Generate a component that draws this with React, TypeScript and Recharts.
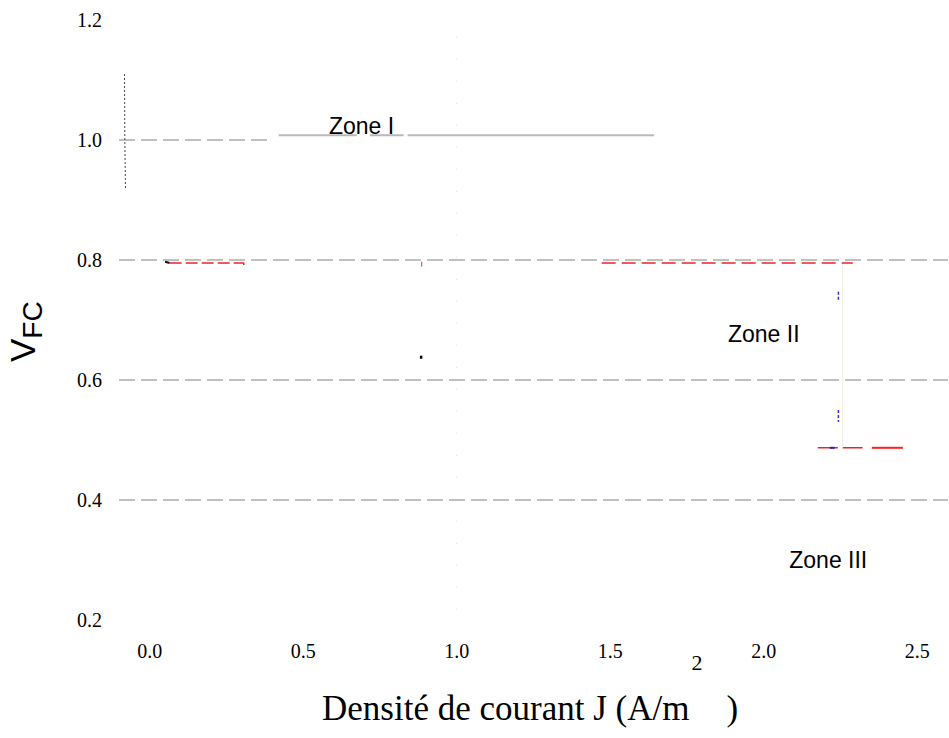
import {
  ComposedChart,
  Line,
  XAxis,
  YAxis,
  ReferenceLine,
  ReferenceDot,
  Customized,
} from "recharts";

// axis ticks
const X_TICKS = [0, 0.5, 1.0, 1.5, 2.0, 2.5];
const Y_TICKS = [0.2, 0.4, 0.6, 0.8, 1.0, 1.2];

// horizontal guide lines (V)
const DASHED_LEVELS = [0.8, 0.6, 0.4];
const DASHED_TOP: [number, number, number] = [-0.1, 0.4, 1.0]; // from J, to J, at V
const SOLID_TOP: [number, number][] = [
  [0.42, 0.674],
  [0.717, 0.827],
  [0.84, 1.642],
]; // J ranges at V = 1.008
const SOLID_TOP_V = 1.008;

// faint dotted vertical at J = 1.0
const VERTICAL_J = 1.0;
const VERTICAL_RANGE: [number, number] = [0.217, 1.183];

// visible fragments of the curves: [J, V]
const BLACK_START: [number, number][] = [
  [-0.082, 1.11],
  [-0.081, 1.0],
  [-0.079, 0.92],
];
const BLACK_KNEE: [number, number][] = [
  [0.05, 0.797],
  [0.065, 0.795],
];
const RED_OHMIC_A: [number, number][] = [
  [0.065, 0.795],
  [0.306, 0.795],
  [0.307, 0.789],
];
const RED_TICK: [number, number][] = [
  [0.886, 0.797],
  [0.886, 0.789],
];
const BLACK_MARK: [number, number][] = [
  [0.88, 0.638],
  [0.888, 0.638],
];
const RED_OHMIC_B: [number, number][] = [
  [1.472, 0.795],
  [2.29, 0.795],
];
const FAINT_DROP: [number, number][] = [
  [2.257, 0.792],
  [2.257, 0.483],
];
const BLUE_A: [number, number][] = [
  [2.243, 0.747],
  [2.243, 0.733],
];
const BLUE_B: [number, number][] = [
  [2.243, 0.55],
  [2.243, 0.53],
];
const RED_LOW_DASH: [number, number][] = [
  [2.176, 0.487],
  [2.322, 0.487],
];
const BLUE_LOW: [number, number][] = [
  [2.215, 0.487],
  [2.231, 0.487],
];
const RED_LOW_SOLID: [number, number][] = [
  [2.352, 0.487],
  [2.453, 0.487],
];

// zone annotations: [label, J, V]
const ZONES: [string, number, number][] = [
  ["Zone I", 0.69, 1.023],
  ["Zone II", 2.0, 0.677],
  ["Zone III", 2.21, 0.3],
];

const toPts = (arr: [number, number][]) => arr.map(([j, v]) => ({ j, v }));

const SERIF = "Liberation Serif, Times New Roman, serif";
const SANS = "Liberation Sans, Arial, sans-serif";

const GRID = "#c0c0c0";

function XTick(props: any) {
  const { x, y, payload } = props;
  return (
    <text
      x={x}
      y={y}
      dy={14}
      textAnchor="middle"
      fontFamily={SERIF}
      fontSize={20}
      fill="#000"
    >
      {Number(payload.value).toFixed(1)}
    </text>
  );
}

function YTick(props: any) {
  const { x, y, payload } = props;
  return (
    <text
      x={x}
      y={y}
      dy={7}
      textAnchor="end"
      fontFamily={SERIF}
      fontSize={20}
      fill="#000"
    >
      {Number(payload.value).toFixed(1)}
    </text>
  );
}

function AxisTitles() {
  return (
    <g>
      <text
        transform="translate(35,362) rotate(-90)"
        fontFamily={SANS}
        fontSize={35}
        fill="#000"
      >
        V
        <tspan fontSize={28} dy={7}>
          FC
        </tspan>
      </text>
      <text x={322} y={720} fontFamily={SERIF} fontSize={35} fill="#000">
        Densité de courant J (A/m
        <tspan fontSize={22} dy={-50} dx={2}>
          2
        </tspan>
        <tspan dy={50} dx={24}>
          )
        </tspan>
      </text>
    </g>
  );
}

const series: { data: [number, number][]; stroke: string; width: number; dash?: string }[] = [
  { data: BLACK_START, stroke: "#444", width: 1, dash: "2 2" },
  { data: FAINT_DROP, stroke: "#ededdd", width: 1 },
  { data: BLACK_KNEE, stroke: "#111", width: 2 },
  { data: RED_OHMIC_A, stroke: "#e8262a", width: 1.5, dash: "12 4" },
  { data: RED_TICK, stroke: "#e8262a", width: 1 },
  { data: BLACK_MARK, stroke: "#000", width: 3 },
  { data: RED_OHMIC_B, stroke: "#e8262a", width: 1.5, dash: "14 6" },
  { data: BLUE_A, stroke: "#3030e0", width: 1.5, dash: "3 2" },
  { data: BLUE_B, stroke: "#3030e0", width: 1.5, dash: "3 2" },
  { data: RED_LOW_DASH, stroke: "#e8262a", width: 1.5, dash: "20 5" },
  { data: BLUE_LOW, stroke: "#2020d0", width: 2 },
  { data: RED_LOW_SOLID, stroke: "#ff2020", width: 2 },
];

export default function App() {
  return (
    <div style={{ width: 949, height: 738 }}>
      <style>{`body{margin:0}`}</style>
      <ComposedChart
        width={949}
        height={738}
        margin={{ top: 20, right: 1, left: 0, bottom: 0 }}
      >
        <XAxis
          type="number"
          dataKey="j"
          domain={[-0.1, 2.6]}
          ticks={X_TICKS}
          allowDataOverflow
          axisLine={false}
          tickLine={false}
          tickMargin={18}
          height={118}
          tick={<XTick />}
        />
        <YAxis
          type="number"
          dataKey="v"
          domain={[0.2, 1.2]}
          ticks={Y_TICKS}
          allowDataOverflow
          axisLine={false}
          tickLine={false}
          tickMargin={11}
          width={119}
          tick={<YTick />}
        />
        <ReferenceLine
          segment={[
            { x: VERTICAL_J, y: VERTICAL_RANGE[0] },
            { x: VERTICAL_J, y: VERTICAL_RANGE[1] },
          ]}
          stroke="#d8d8d8"
          strokeDasharray="1 21"
        />
        {DASHED_LEVELS.map((y) => (
          <ReferenceLine
            key={y}
            y={y}
            stroke={GRID}
            strokeWidth={2}
            strokeDasharray="16 6"
          />
        ))}
        <ReferenceLine
          segment={[
            { x: DASHED_TOP[0], y: DASHED_TOP[2] },
            { x: DASHED_TOP[1], y: DASHED_TOP[2] },
          ]}
          stroke={GRID}
          strokeWidth={2}
          strokeDasharray="16 6"
        />
        {SOLID_TOP.map(([a, b]) => (
          <ReferenceLine
            key={a}
            segment={[
              { x: a, y: SOLID_TOP_V },
              { x: b, y: SOLID_TOP_V },
            ]}
            stroke="#b8b8b8"
            strokeWidth={2}
          />
        ))}
        {series.map((s, i) => (
          <Line
            key={i}
            data={toPts(s.data)}
            dataKey="v"
            type="linear"
            stroke={s.stroke}
            strokeWidth={s.width}
            strokeDasharray={s.dash}
            dot={false}
            activeDot={false}
            isAnimationActive={false}
          />
        ))}
        {ZONES.map(([label, j, v]) => (
          <ReferenceDot
            key={label}
            x={j}
            y={v}
            r={0}
            fill="none"
            stroke="none"
            label={{
              value: label,
              position: "center",
              fill: "#000",
              fontSize: 23,
              fontFamily: SANS,
            }}
          />
        ))}
        <Customized component={AxisTitles} />
      </ComposedChart>
    </div>
  );
}
